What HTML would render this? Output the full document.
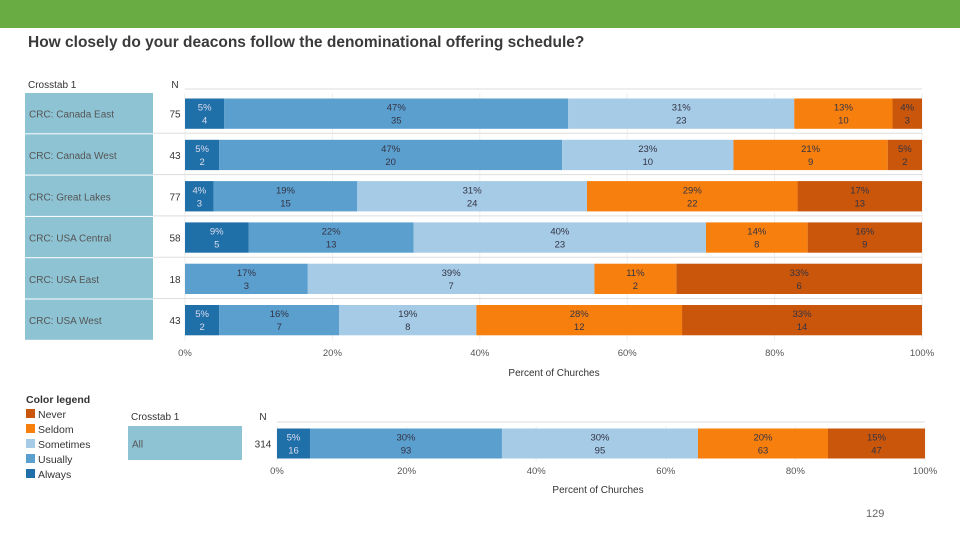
<!DOCTYPE html>
<html><head><meta charset="utf-8"><style>
body{margin:0;width:960px;height:540px;background:#fff;font-family:"Liberation Sans",sans-serif;position:relative;overflow:hidden}
.a{position:absolute}
</style></head><body>
<div class="a" style="left:0;top:0;width:960px;height:28px;background:#6aac44"></div>
<div class="a" style="left:28px;top:34px;font-size:15.5px;font-weight:bold;color:#3a3a3a">How closely do your deacons follow the denominational offering schedule?</div>
<div class="a" style="left:26px;top:393px;font-size:10.5px;color:#333;line-height:15px">
<div style="font-weight:bold">Color legend</div>
<div><span style="display:inline-block;width:9px;height:9px;background:#c9560a;margin-right:3px"></span>Never</div>
<div><span style="display:inline-block;width:9px;height:9px;background:#f77f0e;margin-right:3px"></span>Seldom</div>
<div><span style="display:inline-block;width:9px;height:9px;background:#a6cbe6;margin-right:3px"></span>Sometimes</div>
<div><span style="display:inline-block;width:9px;height:9px;background:#5b9fce;margin-right:3px"></span>Usually</div>
<div><span style="display:inline-block;width:9px;height:9px;background:#1f6fa8;margin-right:3px"></span>Always</div>
</div>
<div class="a" style="left:866px;top:508px;font-size:11px;color:#666">129</div>
<svg class="a" id="chart" style="left:0;top:0" width="960" height="540" font-family="Liberation Sans, sans-serif"></svg>
<script>
const regions=["CRC: Canada East","CRC: Canada West","CRC: Great Lakes","CRC: USA Central","CRC: USA East","CRC: USA West"];
const always=[4,2,3,5,0,2];
const usually=[35,20,15,13,3,7];
const sometimes=[23,10,24,23,7,8];
const seldom=[10,9,22,8,2,12];
const never=[3,2,13,9,6,14];
const allCounts=[16,93,95,63,47];
const ticks=[0,20,40,60,80,100];
const seriesNames=["always","usually","sometimes","seldom","never"];
const colors=["#1f6fa8","#5b9fce","#a6cbe6","#f77f0e","#c9560a"];
const NS="http://www.w3.org/2000/svg";
const svg=document.getElementById('chart');
function mk(t,a,p){const e=document.createElementNS(NS,t);for(const k in a)e.setAttribute(k,a[k]);(p||svg).appendChild(e);return e;}
function txt(x,y,s,o){const e=mk('text',Object.assign({x:x,y:y,'font-size':10,fill:'#333'},o||{}));e.textContent=s;return e;}
function drawPanel(rows,labels,x0,x1,top,rowH,barPad,labX,labW,nX,tickY,titleY,titleX,hdrY){
  const xs=v=>x0+(x1-x0)*v/100;
  txt(labX+3,hdrY,'Crosstab 1',{'font-size':10});
  txt(nX,hdrY,'N',{'text-anchor':'middle'});
  mk('line',{x1:x0,y1:top-4,x2:x1,y2:top-4,stroke:'#ddd'});
  ticks.forEach(t=>{
    const g=mk('line',{x1:xs(t),y1:top,x2:xs(t),y2:top+rows.length*rowH,stroke:'#eee'});
    
    const l=txt(xs(t),tickY,t+'%',{'text-anchor':'middle','font-size':9.5,fill:'#555'});
    
  });
  const at=txt(titleX,titleY,'Percent of Churches',{'text-anchor':'middle','font-size':10});
  
  rows.forEach((r,i)=>{
    const y=top+i*rowH;
    const lb=mk('rect',{x:labX,y:y,width:labW,height:rowH-1,fill:'#8ec3d4'});
    
    txt(labX+4,y+rowH/2+4,labels[i],{fill:'#555','font-size':10});
    if(i>0)mk('line',{x1:labX+labW,y1:y-1,x2:x1,y2:y-1,stroke:'#ddd'});
    const N=r.reduce((a,b)=>a+b,0);
    txt(nX,y+rowH/2+4,String(N),{'text-anchor':'middle'});
    let cum=0;
    r.forEach((c,j)=>{
      const p0=cum/N*100,p1=(cum+c)/N*100;cum+=c;
      if(c===0)return;
      const b=mk('rect',{x:xs(p0),y:y+barPad,width:xs(p1)-xs(p0),height:rowH-2*barPad,fill:colors[j]});
      
      const cx=(xs(p0)+xs(p1))/2,fc=j==0?'#dde':'#334';
      txt(cx,y+rowH/2-3,Math.round(c/N*100)+'%',{'text-anchor':'middle',fill:fc,'font-size':9.5});
      txt(cx,y+rowH/2+10,String(c),{'text-anchor':'middle',fill:fc,'font-size':9.5});
    });
  });
}
const rows=regions.map((_,i)=>[always[i],usually[i],sometimes[i],seldom[i],never[i]]);
drawPanel(rows,regions,185,922,93,41.3,5.5,25,128,175,356,376,554,88);
drawPanel([allCounts],["All"],277,925,426,35,2.5,128,114,263,474,493,598,420);
</script>
</body></html>
